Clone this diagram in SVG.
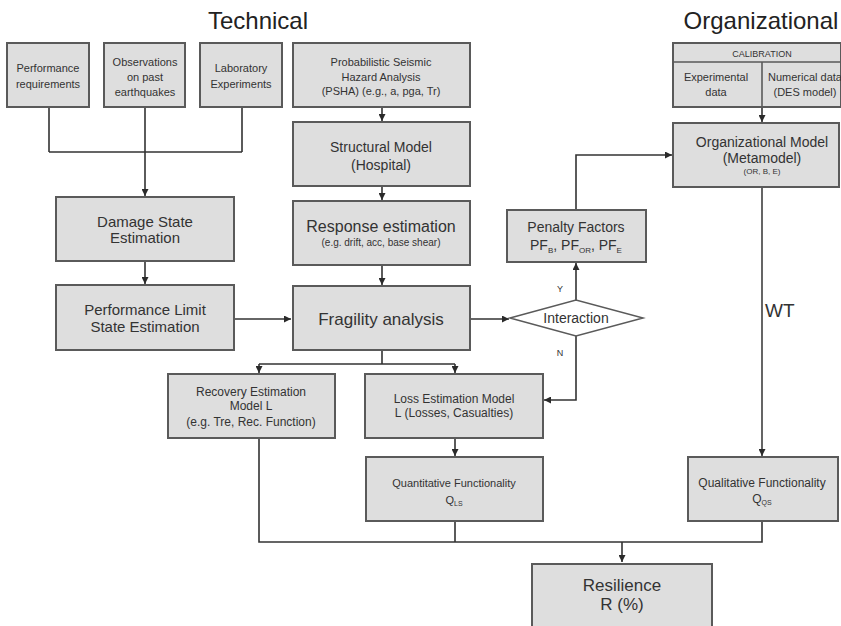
<svg xmlns="http://www.w3.org/2000/svg" width="841" height="626" viewBox="0 0 841 626">
  <defs>
    <marker id="arr" viewBox="0 0 10 10" refX="10" refY="5" markerWidth="7" markerHeight="7" markerUnits="userSpaceOnUse" orient="auto">
      <path d="M0,0 L10,5 L0,10 z" fill="#2a2a2a"/>
    </marker>
    <style>
      .box { fill: #dedede; stroke: #5a5a5a; stroke-width: 2; }
      .dia { fill: #ffffff; stroke: #5a5a5a; stroke-width: 1.5; }
      .ln { fill: none; stroke: #333; stroke-width: 1.6; }
      .lnv { fill: none; stroke: #555; stroke-width: 1.8; }
      text { font-family: "Liberation Sans", Arial, sans-serif; fill: #333; text-anchor: middle; }
      .title { font-size: 24px; fill: #222; }
      .s11 { font-size: 11px; }
      .s12 { font-size: 12px; }
      .s14 { font-size: 14px; }
      .s15 { font-size: 15px; }
      .s17 { font-size: 17px; }
    </style>
  </defs>

  <rect width="841" height="626" fill="#ffffff"/>

  <!-- section headings -->
  <text class="title" x="258" y="29">Technical</text>
  <text class="title" x="761" y="29">Organizational</text>

  <!-- connectors -->
  <g id="connectors">
    <path class="ln" d="M49,107 V152 M242,107 V152 M49,152 H242"/>
    <path class="ln" d="M145,107 V196" marker-end="url(#arr)"/>
    <path class="ln" d="M145,262 V284" marker-end="url(#arr)"/>
    <path class="ln" d="M235,319 H291" marker-end="url(#arr)"/>
    <path class="ln" d="M382,107 V121" marker-end="url(#arr)"/>
    <path class="ln" d="M382,187 V200" marker-end="url(#arr)"/>
    <path class="ln" d="M382,266 V285" marker-end="url(#arr)"/>
    <path class="ln" d="M471,319 H509" marker-end="url(#arr)"/>
    <path class="ln" d="M576,300 V263" marker-end="url(#arr)"/>
    <path class="ln" d="M576,209 V155 H672" marker-end="url(#arr)"/>
    <path class="ln" d="M576,336 V400 H544" marker-end="url(#arr)"/>
    <path class="ln" d="M382,351 V364 M259,364 H455"/>
    <path class="ln" d="M259,364 V373" marker-end="url(#arr)"/>
    <path class="ln" d="M455,364 V373" marker-end="url(#arr)"/>
    <path class="ln" d="M455,439 V456" marker-end="url(#arr)"/>
    <path class="ln" d="M762,107 V122" marker-end="url(#arr)"/>
    <path class="lnv" d="M762,188 V456" marker-end="url(#arr)"/>
    <path class="ln" d="M259,439 V542 H762 V522 M455,522 V542"/>
    <path class="ln" d="M622,542 V562" marker-end="url(#arr)"/>
    <text x="560" y="292" style="font-size:9px">Y</text>
    <text x="560" y="356" style="font-size:9px">N</text>
    <text x="765" y="317" style="font-size:19px;text-anchor:start">WT</text>
  </g>

  <g id="perf-req">
    <rect class="box" x="7" y="43" width="82" height="64"/>
    <text class="s11" x="48" y="72">Performance</text>
    <text class="s11" x="48" y="88">requirements</text>
  </g>
  <g id="observations">
    <rect class="box" x="104" y="43" width="81" height="64"/>
    <text class="s11" x="145" y="66">Observations</text>
    <text class="s11" x="145" y="81">on past</text>
    <text class="s11" x="145" y="96">earthquakes</text>
  </g>
  <g id="lab-exp">
    <rect class="box" x="200" y="43" width="82" height="64"/>
    <text class="s11" x="241" y="72">Laboratory</text>
    <text class="s11" x="241" y="88">Experiments</text>
  </g>

  <g id="psha">
    <rect class="box" x="293" y="43" width="177" height="64"/>
    <text class="s11" x="381" y="66">Probabilistic Seismic</text>
    <text class="s11" x="381" y="81">Hazard Analysis</text>
    <text class="s11" x="381" y="95">(PSHA) (e.g., a, pga, Tr)</text>
  </g>
  <g id="structural-model">
    <rect class="box" x="293" y="122" width="177" height="64"/>
    <text class="s14" x="381" y="152">Structural Model</text>
    <text class="s14" x="381" y="170">(Hospital)</text>
  </g>
  <g id="response">
    <rect class="box" x="293" y="201" width="177" height="64"/>
    <text x="381" y="232" style="font-size:16px">Response estimation</text>
    <text x="381" y="246" style="font-size:10px">(e.g. drift, acc, base shear)</text>
  </g>
  <g id="fragility">
    <rect class="box" x="293" y="286" width="177" height="64"/>
    <text class="s17" x="381" y="325">Fragility analysis</text>
  </g>

  <g id="damage-state">
    <rect class="box" x="56" y="197" width="178" height="64"/>
    <text class="s15" x="145" y="227">Damage State</text>
    <text class="s15" x="145" y="243">Estimation</text>
  </g>
  <g id="perf-limit">
    <rect class="box" x="56" y="285" width="178" height="65"/>
    <text class="s15" x="145" y="315">Performance Limit</text>
    <text class="s15" x="145" y="332">State Estimation</text>
  </g>

  <g id="penalty">
    <rect class="box" x="507" y="210" width="139" height="52"/>
    <text class="s14" x="576" y="232">Penalty Factors</text>
    <text class="s14" x="576" y="250">PF<tspan style="font-size:8px" dy="3">B</tspan><tspan dy="-3">, PF</tspan><tspan style="font-size:8px" dy="3">OR</tspan><tspan dy="-3">, PF</tspan><tspan style="font-size:8px" dy="3">E</tspan></text>
  </g>
  <g id="interaction">
    <polygon class="dia" points="510,318 576,300 643,318 576,336"/>
    <text class="s14" x="576" y="323">Interaction</text>
  </g>

  <g id="recovery">
    <rect class="box" x="168" y="374" width="167" height="64"/>
    <text class="s12" x="251" y="396">Recovery Estimation</text>
    <text class="s12" x="251" y="410">Model L</text>
    <text class="s12" x="251" y="426">(e.g. Tre, Rec. Function)</text>
  </g>
  <g id="loss">
    <rect class="box" x="365" y="374" width="178" height="64"/>
    <text class="s12" x="454" y="403">Loss Estimation Model</text>
    <text class="s12" x="454" y="417">L (Losses, Casualties)</text>
  </g>
  <g id="quantitative">
    <rect class="box" x="366" y="457" width="177" height="64"/>
    <text class="s11" x="454" y="487">Quantitative Functionality</text>
    <text class="s11" x="454" y="504">Q<tspan style="font-size:7px" dy="2">LS</tspan></text>
  </g>

  <g id="calibration">
    <rect class="box" x="673" y="43" width="168" height="64"/>
    <path class="ln" d="M673,62 H841 M762,62 V107" style="stroke:#5a5a5a"/>
    <text x="762" y="57" style="font-size:9px">CALIBRATION</text>
    <text class="s11" x="716" y="81">Experimental</text>
    <text class="s11" x="716" y="96">data</text>
    <text class="s11" x="805" y="81">Numerical data</text>
    <text class="s11" x="805" y="96">(DES model)</text>
  </g>
  <g id="org-model">
    <rect class="box" x="673" y="123" width="166" height="64"/>
    <text class="s14" x="762" y="147">Organizational Model</text>
    <text class="s14" x="762" y="163">(Metamodel)</text>
    <text x="762" y="174" style="font-size:8px">(OR, B, E)</text>
  </g>
  <g id="qualitative">
    <rect class="box" x="688" y="457" width="150" height="64"/>
    <text class="s12" x="762" y="487">Qualitative Functionality</text>
    <text class="s12" x="762" y="503">Q<tspan style="font-size:7px" dy="2">QS</tspan></text>
  </g>

  <g id="resilience">
    <rect class="box" x="532" y="564" width="180" height="70"/>
    <text x="622" y="591" style="font-size:17px">Resilience</text>
    <text x="622" y="610" style="font-size:17px">R (%)</text>
  </g>
</svg>
